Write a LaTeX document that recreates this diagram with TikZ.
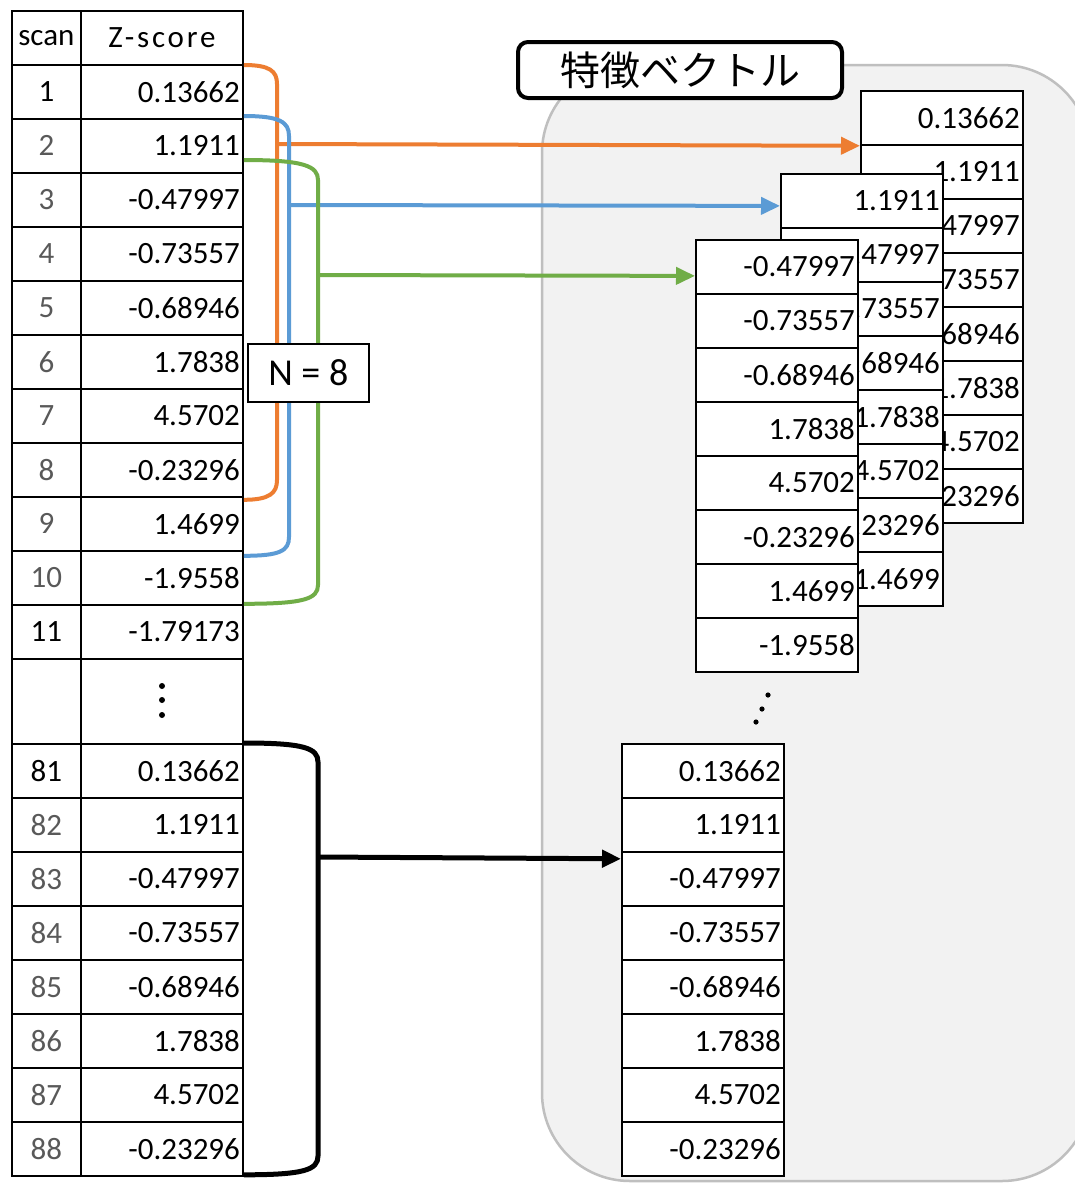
\documentclass[tikz,border=0pt]{standalone}
\usepackage{fontspec}
\setmainfont{Carlito}
\newfontfamily\jpfont{Noto Sans CJK JP}
\newfontfamily\zfont[LetterSpace=9]{Carlito}
\usetikzlibrary{arrows.meta}
\definecolor{zorange}{HTML}{ED7D31}
\definecolor{zblue}{HTML}{5B9BD5}
\definecolor{zgreen}{HTML}{70AD47}
\definecolor{panelfill}{HTML}{F2F2F2}
\definecolor{panelline}{HTML}{BFBFBF}
\definecolor{idgray}{HTML}{595959}

\begin{document}
\begin{tikzpicture}[x=1pt,y=-1pt,
  cellbox/.style={draw=black, line width=1.8pt, fill=white, minimum height=54pt,
    inner sep=0pt, anchor=north west, font=\fontsize{31}{37}\selectfont},
  idcell/.style={cellbox, minimum width=69pt},
  valcell/.style={cellbox, text width=156pt, align=right, inner xsep=3pt},
  bracket/.style={line width=4pt, line cap=butt},
  tip/.style={-{Triangle[length=19pt,width=17pt]}},
  dot/.style={fill=black}
]
\clip (0,0) rectangle (1075,1184);
\fill[white] (0,0) rectangle (1075,1184);

% grey panel holding the feature vectors
\draw[fill=panelfill, draw=panelline, line width=2.5pt, rounded corners=88pt]
  (542,65) rectangle (1090,1181);

% panel title
\node[draw, line width=4pt, rounded corners=10pt, fill=white, minimum width=324pt,
  minimum height=56pt, inner sep=0pt, anchor=north west,
  font=\jpfont\fontsize{40}{46}\selectfont] (title) at (516,40) {特徴ベクトル};

% stacked feature vectors (back to front)
\foreach \v [count=\k] in {0.13662,1.1911,-0.47997,-0.73557,-0.68946,1.7838,4.5702,-0.23296}
  \node[valcell] (A\k) at (860,{90+54*(\k-1)}) {\v};
\foreach \v [count=\k] in {1.1911,-0.47997,-0.73557,-0.68946,1.7838,4.5702,-0.23296,1.4699}
  \node[valcell] (B\k) at (780,{173+54*(\k-1)}) {\v};
\foreach \v [count=\k] in {-0.47997,-0.73557,-0.68946,1.7838,4.5702,-0.23296,1.4699,-1.9558}
  \node[valcell] (C\k) at (695,{239+54*(\k-1)}) {\v};

% diagonal ellipsis between vectors
\fill[dot] (768,695) circle (2.6pt);
\fill[dot] (762,709) circle (2.6pt);
\fill[dot] (756,722) circle (2.6pt);

\foreach \v [count=\k] in {0.13662,1.1911,-0.47997,-0.73557,-0.68946,1.7838,4.5702,-0.23296}
  \node[valcell] (D\k) at (621,{743+54*(\k-1)}) {\v};

% scan / Z-score table
\node[idcell] (hscan) at (11,10) {scan};
\node[cellbox, minimum width=162pt] (hz) at (80,10) {\zfont Z-score};
\foreach \i/\v/\c in {1/0.13662/black, 2/1.1911/idgray, 3/-0.47997/idgray,
    4/-0.73557/idgray, 5/-0.68946/idgray, 6/1.7838/idgray, 7/4.5702/idgray,
    8/-0.23296/idgray, 9/1.4699/idgray, 10/-1.9558/idgray, 11/-1.79173/black} {
  \node[idcell, text=\c] (id\i) at (11,{64+54*(\i-1)}) {\i};
  \node[valcell] (z\i) at (80,{64+54*(\i-1)}) {\v};
}
\node[idcell, minimum height=85pt] (idgap) at (11,658) {};
\node[cellbox, minimum width=162pt, minimum height=85pt] (zgap) at (80,658) {};
\fill[dot] (162,686) circle (3pt);
\fill[dot] (162,700) circle (3pt);
\fill[dot] (162,715) circle (3pt);
\foreach \i/\v/\c in {81/0.13662/black, 82/1.1911/idgray, 83/-0.47997/idgray,
    84/-0.73557/idgray, 85/-0.68946/idgray, 86/1.7838/idgray, 87/4.5702/idgray,
    88/-0.23296/idgray} {
  \node[idcell, text=\c] (id\i) at (11,{743+54*(\i-81)}) {\i};
  \node[valcell] (z\i) at (80,{743+54*(\i-81)}) {\v};
}

% sliding windows of N = 8 scans
\coordinate (ot) at (277,84);  \coordinate (ob) at (277,480); \coordinate (oa) at (277,144);
\coordinate (bt) at (289,136); \coordinate (bb) at (289,537); \coordinate (ba) at (289,205);
\coordinate (gt) at (318,180); \coordinate (gb) at (318,585); \coordinate (ga) at (318,275);
\coordinate (kt) at (318,762); \coordinate (kb) at (318,1156); \coordinate (ka) at (318,857);

\draw[bracket, zorange] ([yshift=-1pt]z1.north east) .. controls +(26,0) and +(0,-13) .. (ot)
  -- (ob) .. controls +(0,13) and +(26,0) .. ([yshift=-2pt]z8.south east);
\draw[bracket, zorange, tip] (oa) -- (A1.south west);

\draw[bracket, zblue] ([yshift=2pt]z2.north east) .. controls +(36,0) and +(0,-14) .. (bt)
  -- (bb) .. controls +(0,14) and +(36,0) .. ([yshift=-4pt]z9.south east);
\draw[bracket, zblue, tip] (ba) -- ([yshift=-5pt]B1.west);

\draw[bracket, zgreen] ([yshift=12pt]z3.north east) .. controls +(60,0) and +(0,-14) .. (gt)
  -- (gb) .. controls +(0,14) and +(60,0) .. ([yshift=2pt]z10.south east);
\draw[bracket, zgreen, tip] (ga) -- ([yshift=-9pt]C1.west);

\draw[bracket, black, line width=5pt] (z81.north east) .. controls +(60,0) and +(0,-14) .. (kt)
  -- (kb) .. controls +(0,14) and +(60,0) .. ([yshift=2pt]z88.south east);
\draw[bracket, black, line width=5pt, tip] (ka) -- ([yshift=-6pt]D2.south west);

% window size label
\node[draw, line width=1.6pt, fill=white, minimum width=121pt, minimum height=58pt,
  inner sep=0pt, anchor=north west, font=\fontsize{38}{44}\selectfont] (nbox) at (247,343) {N = 8};
\end{tikzpicture}
\end{document}
